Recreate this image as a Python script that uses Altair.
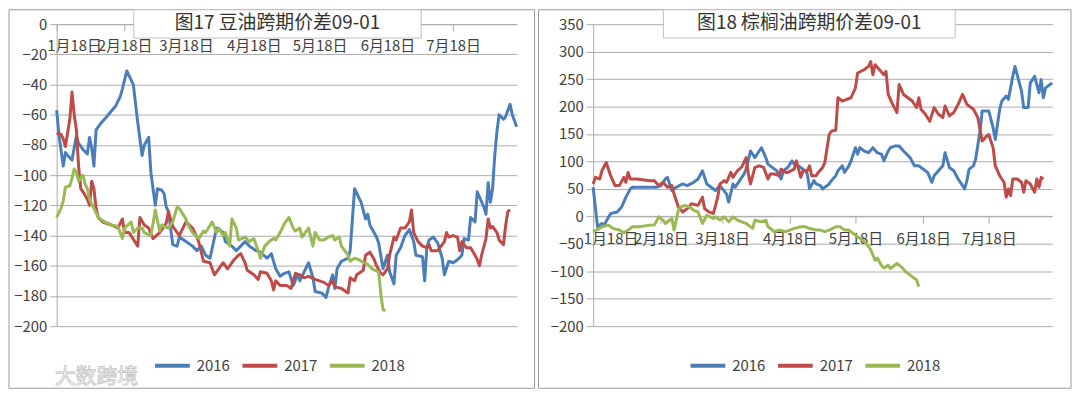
import altair as alt
import pandas as pd

FONT = "Noto Sans CJK SC"
YEARS = ["2016", "2017", "2018"]
COLORS = ["#4a7ebb", "#be4b48", "#98b954"]
GRID = "#ababab"
TEXT = "#404040"

TITLE_L = "图17 豆油跨期价差09-01"
TITLE_R = "图18 棕榈油跨期价差09-01"
WATERMARK = "大数跨境"

X_TICKS = ["01-18", "02-18", "03-18", "04-18", "05-18", "06-18", "07-18"]
X_DOMAIN = ["01-18", "08-16"]
Y_TICKS_L = [-200, -180, -160, -140, -120, -100, -80, -60, -40, -20, 0]
Y_TICKS_R = [-200, -150, -100, -50, 0, 50, 100, 150, 200, 250, 300, 350]

# ---------------- 豆油 (soybean oil) ----------------
soy16_d = ["01-18", "01-19", "01-21", "01-22", "01-23", "01-25", "01-27", "01-28", "01-30", "02-01",
           "02-02", "02-03", "02-04", "02-05", "02-07", "02-10", "02-14", "02-16", "02-17", "02-19",
           "02-22", "02-24", "02-26", "02-27", "03-01", "03-02", "03-04", "03-05", "03-07", "03-08",
           "03-09", "03-10", "03-12", "03-14", "03-15", "03-18", "03-21", "03-23", "03-25", "03-27",
           "03-29", "04-01", "04-04", "04-05", "04-08", "04-10", "04-14", "04-16", "04-19", "04-21",
           "04-24", "04-26", "04-28", "04-30", "05-02", "05-04", "05-06", "05-08", "05-09", "05-13",
           "05-15", "05-16", "05-19", "05-21", "05-22", "05-24", "05-25", "05-26", "05-28", "05-31",
           "06-01", "06-03", "06-06", "06-08", "06-09", "06-10", "06-13", "06-14", "06-16", "06-18",
           "06-19", "06-21", "06-22", "06-24", "06-26", "06-28", "06-30", "07-01", "07-04", "07-05",
           "07-06", "07-07", "07-09", "07-11", "07-13", "07-14", "07-16", "07-18", "07-20", "07-22",
           "07-23", "07-25", "07-26", "07-28", "07-29", "08-01", "08-02", "08-03", "08-04", "08-05",
           "08-06", "08-07", "08-08", "08-10", "08-11", "08-13", "08-14", "08-16"]
soy16_v = [-57, -73, -94, -85, -87, -90, -74, -79, -83, -86,
           -75, -82, -94, -70, -66, -61, -54, -48, -43, -31,
           -40, -65, -87, -80, -75, -98, -120, -109, -110, -112,
           -121, -124, -146, -147, -141, -144, -147, -150, -147, -153,
           -155, -135, -138, -144, -147, -150, -144, -147, -150, -151,
           -155, -152, -162, -167, -165, -164, -173, -166, -170, -158,
           -168, -177, -178, -181, -175, -166, -175, -162, -157, -155,
           -150, -109, -118, -129, -126, -133, -141, -145, -162, -153,
           -164, -172, -153, -148, -140, -136, -144, -153, -154, -170,
           -148, -143, -141, -145, -155, -166, -157, -158, -156, -153,
           -142, -143, -128, -131, -111, -121, -126, -105, -118, -109,
           -87, -71, -60, -63, -61, -53, -60, -68]

soy17_d = ["01-18", "01-20", "01-21", "01-22", "01-24", "01-25", "01-26", "01-27", "01-28", "01-29",
           "01-30", "02-01", "02-02", "02-03", "02-04", "02-05", "02-06", "02-08", "02-12", "02-15",
           "02-17", "02-18", "02-20", "02-24", "02-25", "02-27", "03-01", "03-03", "03-06", "03-09",
           "03-10", "03-12", "03-15", "03-18", "03-21", "03-23", "03-24", "03-26", "03-29", "03-31",
           "04-02", "04-04", "04-06", "04-09", "04-11", "04-12", "04-14", "04-15", "04-18", "04-20",
           "04-21", "04-24", "04-26", "04-27", "04-28", "04-30", "05-03", "05-05", "05-07", "05-09",
           "05-11", "05-13", "05-16", "05-18", "05-20", "05-22", "05-24", "05-25", "05-28", "05-31",
           "06-01", "06-03", "06-04", "06-07", "06-08", "06-10", "06-12", "06-13", "06-15", "06-16",
           "06-18", "06-19", "06-21", "06-22", "06-24", "06-26", "06-28", "06-29", "06-30", "07-02",
           "07-04", "07-06", "07-07", "07-08", "07-11", "07-14", "07-15", "07-16", "07-18", "07-20",
           "07-21", "07-22", "07-24", "07-26", "07-28", "07-29", "07-30", "07-31", "08-02", "08-03",
           "08-04", "08-05", "08-07", "08-08", "08-10", "08-11", "08-12", "08-13"]
soy17_v = [-72, -73, -76, -81, -63, -45, -60, -70, -94, -109,
           -111, -116, -120, -104, -109, -122, -128, -131, -133, -135,
           -129, -138, -138, -147, -128, -133, -135, -142, -138, -132,
           -124, -134, -140, -131, -135, -141, -145, -157, -158, -166,
           -162, -158, -162, -156, -153, -152, -158, -163, -166, -169,
           -164, -165, -170, -176, -170, -173, -173, -175, -165, -166,
           -168, -167, -169, -170, -171, -173, -170, -174, -175, -178,
           -168, -170, -166, -163, -153, -151, -156, -160, -165, -166,
           -162, -153, -141, -143, -135, -135, -131, -123, -138, -144,
           -147, -148, -146, -150, -150, -144, -138, -141, -140, -141,
           -150, -144, -148, -148, -153, -156, -160, -153, -142, -129,
           -135, -134, -138, -143, -146, -133, -124, -123]

soy18_d = ["01-18", "01-20", "01-21", "01-22", "01-24", "01-25", "01-26", "01-27", "01-28", "01-30",
           "01-31", "02-01", "02-02", "02-04", "02-06", "02-09", "02-12", "02-15", "02-17", "02-18",
           "02-21", "02-22", "02-24", "02-26", "02-27", "03-02", "03-03", "03-04", "03-06", "03-07",
           "03-08", "03-10", "03-12", "03-14", "03-15", "03-18", "03-19", "03-21", "03-24", "03-26",
           "03-27", "03-30", "04-01", "04-02", "04-04", "04-05", "04-07", "04-08", "04-10", "04-11",
           "04-14", "04-16", "04-18", "04-20", "04-21", "04-23", "04-25", "04-27", "04-28", "04-30",
           "05-02", "05-04", "05-06", "05-07", "05-09", "05-10", "05-12", "05-13", "05-15", "05-16",
           "05-18", "05-20", "05-22", "05-24", "05-25", "05-27", "05-28", "05-31", "06-01", "06-03",
           "06-05", "06-06", "06-09", "06-11", "06-14", "06-15", "06-16", "06-17"]
soy18_v = [-128, -122, -117, -108, -107, -102, -96, -98, -104, -100,
           -106, -109, -116, -122, -128, -131, -133, -134, -142, -135,
           -131, -138, -135, -135, -138, -140, -132, -123, -137, -133,
           -134, -135, -131, -121, -122, -129, -133, -138, -142, -137,
           -138, -131, -138, -135, -140, -138, -147, -129, -135, -143,
           -141, -144, -142, -150, -155, -147, -144, -142, -143, -138,
           -132, -128, -135, -137, -135, -141, -137, -135, -147, -138,
           -143, -143, -141, -140, -143, -141, -147, -153, -157, -155,
           -156, -157, -159, -162, -164, -179, -189, -190]

# ---------------- 棕榈油 (palm oil) ----------------
palm16_d = ["01-18", "01-20", "01-22", "01-23", "01-26", "01-27", "01-29", "01-31", "02-01", "02-02",
            "02-04", "02-05", "02-16", "02-18", "02-20", "02-21", "02-23", "02-25", "02-28", "03-02",
            "03-05", "03-07", "03-09", "03-11", "03-13", "03-15", "03-17", "03-20", "03-21", "03-23",
            "03-24", "03-26", "03-28", "03-29", "03-31", "04-02", "04-03", "04-05", "04-07", "04-08",
            "04-11", "04-12", "04-14", "04-15", "04-17", "04-19", "04-20", "04-22", "04-24", "04-25",
            "04-26", "04-27", "04-29", "04-30", "05-02", "05-03", "05-06", "05-07", "05-09", "05-10",
            "05-12", "05-13", "05-15", "05-16", "05-18", "05-19", "05-20", "05-22", "05-24", "05-26",
            "05-28", "05-30", "05-31", "06-02", "06-03", "06-05", "06-07", "06-09", "06-12", "06-14",
            "06-16", "06-19", "06-20", "06-22", "06-23", "06-25", "06-27", "06-28", "06-30", "07-02",
            "07-04", "07-07", "07-08", "07-09", "07-11", "07-12", "07-14", "07-15", "07-18", "07-20",
            "07-21", "07-23", "07-24", "07-26", "07-27", "07-29", "07-30", "07-31", "08-02", "08-03",
            "08-05", "08-06", "08-08", "08-10", "08-11", "08-12", "08-13", "08-16"]
palm16_v = [53, -19, -13, -16, 5, 6, 8, 17, 26, 35,
            50, 53, 53, 56, 68, 71, 47, 53, 59, 56,
            62, 68, 83, 59, 53, 47, 56, 41, 26, 59,
            53, 65, 77, 86, 119, 107, 113, 125, 107, 95,
            86, 83, 68, 83, 89, 101, 95, 92, 86, 83,
            77, 50, 65, 59, 56, 50, 59, 65, 74, 83,
            92, 80, 92, 101, 125, 113, 125, 119, 116, 125,
            116, 113, 101, 119, 125, 128, 128, 119, 107, 92,
            92, 83, 80, 62, 74, 83, 92, 116, 89, 83,
            68, 50, 65, 86, 92, 104, 155, 192, 192, 161,
            140, 195, 210, 219, 213, 255, 273, 258, 228, 198,
            198, 243, 255, 225, 249, 216, 234, 243]

palm17_d = ["01-18", "01-19", "01-21", "01-22", "01-24", "01-26", "01-28", "01-30", "02-01", "02-02",
            "02-03", "02-04", "02-07", "02-13", "02-15", "02-17", "02-19", "02-21", "02-23", "02-24",
            "02-26", "02-28", "03-02", "03-04", "03-07", "03-09", "03-10", "03-12", "03-14", "03-16",
            "03-17", "03-19", "03-20", "03-22", "03-23", "03-25", "03-27", "03-29", "03-30", "03-31",
            "04-02", "04-04", "04-06", "04-08", "04-09", "04-11", "04-13", "04-14", "04-16", "04-17",
            "04-20", "04-21", "04-23", "04-24", "04-26", "04-27", "04-28", "04-30", "05-01", "05-03",
            "05-04", "05-06", "05-07", "05-09", "05-10", "05-12", "05-14", "05-16", "05-18", "05-19",
            "05-22", "05-24", "05-25", "05-26", "05-27", "05-29", "05-31", "06-01", "06-02", "06-04",
            "06-06", "06-07", "06-09", "06-11", "06-13", "06-15", "06-16", "06-17", "06-19", "06-21",
            "06-23", "06-25", "06-27", "06-28", "06-30", "07-02", "07-04", "07-06", "07-08", "07-11",
            "07-13", "07-15", "07-17", "07-18", "07-20", "07-21", "07-23", "07-25", "07-26", "07-27",
            "07-28", "07-29", "07-31", "08-02", "08-03", "08-04", "08-06", "08-08", "08-09", "08-10",
            "08-11", "08-12"]
palm17_v = [59, 71, 68, 83, 98, 74, 56, 56, 71, 62,
            80, 68, 68, 65, 65, 56, 62, 53, 56, 41,
            17, 8, 14, 23, 20, 35, 14, 8, 5, 35,
            59, 65, 62, 80, 71, 83, 90, 107, 77, 59,
            89, 92, 89, 68, 77, 77, 74, 86, 80, 80,
            86, 101, 71, 83, 83, 92, 74, 74, 80, 89,
            98, 149, 155, 157, 216, 210, 213, 216, 234, 261,
            267, 273, 282, 258, 276, 267, 258, 264, 222, 204,
            189, 240, 222, 216, 210, 198, 216, 195, 186, 173,
            198, 186, 180, 201, 183, 189, 204, 222, 204, 195,
            180, 137, 146, 149, 125, 92, 74, 62, 35, 50,
            38, 68, 68, 62, 44, 65, 59, 44, 68, 53,
            71, 68]

palm18_d = ["01-18", "01-21", "01-22", "01-25", "01-27", "01-30", "02-01", "02-03", "02-05", "02-08",
            "02-13", "02-15", "02-17", "02-19", "02-20", "02-23", "02-24", "02-26", "02-27", "03-01",
            "03-03", "03-05", "03-07", "03-09", "03-11", "03-14", "03-15", "03-17", "03-19", "03-21",
            "03-23", "03-25", "03-27", "03-29", "04-01", "04-02", "04-05", "04-07", "04-08", "04-11",
            "04-13", "04-16", "04-18", "04-20", "04-23", "04-25", "04-27", "04-30", "05-02", "05-04",
            "05-06", "05-09", "05-11", "05-13", "05-15", "05-18", "05-20", "05-22", "05-24", "05-25",
            "05-27", "05-28", "05-30", "05-31", "06-02", "06-03", "06-06", "06-08", "06-10", "06-12",
            "06-15", "06-16"]
palm18_v = [-28, -22, -19, -16, -22, -25, -30, -25, -19, -19,
            -16, -16, -1, -7, -13, -4, -25, 11, 17, 20,
            17, 11, 8, -13, 2, -4, -1, -7, -1, -10,
            -1, -7, -10, -13, -22, -7, -10, -7, -19, -28,
            -25, -28, -25, -22, -19, -19, -22, -25, -25, -28,
            -25, -19, -19, -25, -25, -34, -40, -46, -55, -61,
            -80, -76, -90, -94, -89, -95, -86, -92, -101, -107,
            -116, -128]


def to_date(md):
    return "2018/" + md.replace("-", "/")


def dt(md):
    m, d = md.split("-")
    return alt.DateTime(year=2018, month=int(m), date=int(d))


def frame(dates_list, values_list):
    rows = []
    for year, ds, vs in zip(YEARS, dates_list, values_list):
        assert len(ds) == len(vs), (year, len(ds), len(vs))
        for d, v in zip(ds, vs):
            rows.append({"date": to_date(d), "value": v, "year": year})
    return pd.DataFrame(rows)


def panel(df, title, yticks, W, H, box_left, box_right, title_l, title_r, legend_x, watermark=False):
    ymin, ymax = yticks[0], yticks[-1]
    zero_from_bottom = H * (0 - ymin) / (ymax - ymin)

    x_axis = alt.Axis(
        values=[dt(t) for t in X_TICKS], format="%-m月%-d日", orient="bottom",
        offset=-zero_from_bottom, grid=False, domainColor=GRID, tickColor=GRID,
        tickSize=7, labelPadding=8, labelFlush=True, labelFlushOffset=10,
        labelOverlap=False, labelFontSize=15, labelFont=FONT, labelColor=TEXT, title=None,
    )
    y_axis = alt.Axis(
        values=yticks, grid=True, gridColor=GRID, domainColor=GRID, tickColor=GRID,
        tickSize=7, labelPadding=3, labelFontSize=15, labelFont=FONT, labelColor=TEXT,
        title=None, labelOverlap=False,
    )
    legend = alt.Legend(
        orient="none", legendX=legend_x, legendY=H + 20, direction="horizontal", title=None,
        symbolType="stroke", symbolSize=1225, symbolStrokeWidth=4, labelFontSize=15,
        labelFont=FONT, labelColor=TEXT, labelOffset=5, columnPadding=4, padding=0,
    )

    lines = alt.Chart(df).mark_line(strokeWidth=3, strokeJoin="round").encode(
        x=alt.X("date:T", scale=alt.Scale(domain=[dt(X_DOMAIN[0]), dt(X_DOMAIN[1])]), axis=x_axis),
        y=alt.Y("value:Q", scale=alt.Scale(domain=[ymin, ymax], nice=False), axis=y_axis),
        color=alt.Color("year:N", scale=alt.Scale(domain=YEARS, range=COLORS), legend=legend),
    )

    one = alt.Data(values=[{"t": title}])
    border = alt.Chart(one).mark_rect(fillOpacity=0, stroke="#9a9a9a", strokeWidth=1).encode(
        x=alt.value(box_left), x2=alt.value(box_right), y=alt.value(-14.5), y2=alt.value(H + 62.5)
    )
    tbox = alt.Chart(one).mark_rect(fill="white", stroke="#c0c0c0", strokeWidth=1).encode(
        x=alt.value(title_l), x2=alt.value(title_r), y=alt.value(-14.5), y2=alt.value(14)
    )
    ttext = alt.Chart(one).mark_text(fontSize=19, font=FONT, color="#333333", baseline="middle").encode(
        x=alt.value((title_l + title_r) / 2), y=alt.value(-1), text="t:N"
    )
    layers = [border, lines, tbox, ttext]
    if watermark:
        wm = alt.Chart(alt.Data(values=[{"w": WATERMARK}])).mark_text(
            fontSize=21, font=FONT, fill="white", stroke="#c4c4c4", strokeWidth=0.8, baseline="middle"
        ).encode(x=alt.value(40), y=alt.value(H + 51), text="w:N")
        layers.append(wm)
    return alt.layer(*layers).properties(width=W, height=H)


soy = frame([soy16_d, soy17_d, soy18_d], [soy16_v, soy17_v, soy18_v])
palm = frame([palm16_d, palm17_d, palm18_d], [palm16_v, palm17_v, palm18_v])

left = panel(soy, TITLE_L, Y_TICKS_L, 463, 304, -48, 481, 77.6, 366.9, 97, watermark=True)
right = panel(palm, TITLE_R, Y_TICKS_R, 462, 304, -55, 481, 70.7, 364.4, 96)

chart = (
    alt.hconcat(left, right, spacing=2)
    .resolve_scale(color="independent")
    .resolve_legend(color="independent")
    .configure_view(stroke=None)
    .properties(padding=0, background="white")
)

chart.save("out.html", embed_options={"renderer": "svg", "actions": False})
